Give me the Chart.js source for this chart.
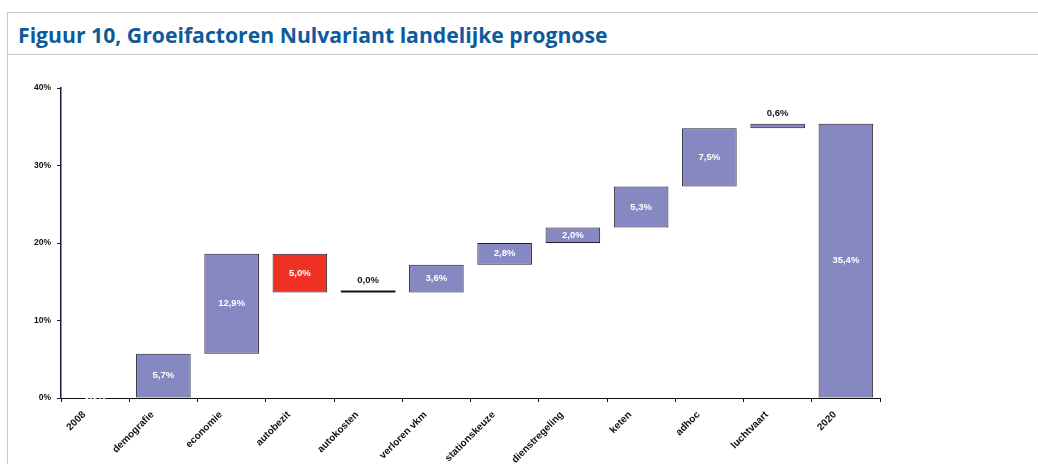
<!DOCTYPE html>
<html>
<head>
<meta charset="utf-8">
<script src="https://cdn.jsdelivr.net/npm/chart.js@4.4.1/dist/chart.umd.min.js"></script>
<style>
  html, body { margin: 0; padding: 0; background: #fff; }
  body { width: 1038px; height: 464px; position: relative; overflow: hidden; }
  .frame { position: absolute; left: 7px; top: 12px; right: -2px; bottom: -2px;
           border-top: 1px solid #c8c8c8; border-left: 1px solid #c8c8c8; }
  .title { position: absolute; left: 18px; top: 20px; font-family: 'Open Sans', sans-serif;
           font-weight: 700; font-size: 21.2px; color: #0d5a9c; white-space: nowrap; }
  .sep { position: absolute; left: 7px; right: 0; top: 54px; border-top: 1px solid #c8c8c8; }
  #chart { position: absolute; left: 0; top: 0; }
</style>
</head>
<body>
<div class="frame"></div>
<div class="title">Figuur 10, Groeifactoren Nulvariant landelijke prognose</div>
<div class="sep"></div>
<canvas id="chart" width="1038" height="464"></canvas>
<script>
(function () {
    'use strict';

    /* --- Data --- */
    var categories = ['2008', 'demografie', 'economie', 'autobezit', 'autokosten', 'verloren vkm',
                      'stationskeuze', 'dienstregeling', 'keten', 'adhoc', 'luchtvaart', '2020'];
    var barStart   = [0, 0,   5.7,  18.6, 13.6, 13.6, 17.2, 20.0, 22.0, 27.3, 34.8, 0];
    var barEnd     = [0, 5.7, 18.6, 13.6, 13.6, 17.2, 20.0, 22.0, 27.3, 34.8, 35.4, 35.4];
    var barLabels  = ['0,0%', '5,7%', '12,9%', '5,0%', '0,0%', '3,6%', '2,8%', '2,0%',
                      '5,3%', '7,5%', '0,6%', '35,4%'];
    var yTicks     = [0, 10, 20, 30, 40];

    var blue  = '#8688c1';
    var red   = '#ee3124';
    var font  = "'Liberation Sans', Arial, sans-serif";

    var colors = barStart.map(function (s, i) {
        if (i === 0) return 'rgba(0,0,0,0)';
        if (barEnd[i] === s) return '#111';
        return barEnd[i] < s ? red : blue;
    });
    var borders = barStart.map(function (s, i) {
        return (barEnd[i] === s) ? 0 : 1;
    });

    /* --- Value labels on the bars --- */
    var valueLabels = {
        id: 'valueLabels',
        afterDatasetsDraw: function (chart) {
            var ctx = chart.ctx;
            var meta = chart.getDatasetMeta(0);
            ctx.save();
            ctx.font = 'bold 9.5px ' + font;
            ctx.textAlign = 'center';
            ctx.textBaseline = 'middle';
            meta.data.forEach(function (bar, i) {
                var top = Math.min(bar.y, bar.base);
                var h = Math.abs(bar.base - bar.y);
                if (i > 0 && h < 12) {
                    ctx.fillStyle = '#111';
                    ctx.fillText(barLabels[i], bar.x, top - 10);
                } else {
                    ctx.fillStyle = '#fff';
                    ctx.fillText(barLabels[i], bar.x, top + h / 2);
                }
            });
            ctx.restore();
        }
    };

    new Chart(document.getElementById('chart'), {
        type: 'bar',
        data: {
            labels: categories,
            datasets: [{
                data: barStart.map(function (s, i) { return [s, barEnd[i]]; }),
                backgroundColor: colors,
                borderColor: '#1c1c2c',
                borderWidth: borders,
                borderSkipped: false,
                minBarLength: 2,
                barPercentage: 0.8,
                categoryPercentage: 1
            }]
        },
        options: {
            responsive: false,
            animation: false,
            layout: { padding: { left: 0, top: 88, right: 158, bottom: 0 } },
            plugins: {
                legend: { display: false },
                tooltip: { enabled: false }
            },
            scales: {
                x: {
                    afterFit: function (s) { s.height = 66; },
                    border: { color: '#111', width: 1 },
                    grid: { drawOnChartArea: false, drawTicks: true, tickLength: 4, color: '#111', offset: true },
                    ticks: {
                        minRotation: 45, maxRotation: 45, autoSkip: false,
                        labelOffset: -11, padding: 7,
                        color: '#111', font: { family: font, size: 10, weight: 'bold' }
                    }
                },
                y: {
                    min: 0, max: 40,
                    afterFit: function (s) { s.width = 61; },
                    afterBuildTicks: function (s) {
                        s.ticks = yTicks.map(function (v) { return { value: v }; });
                    },
                    border: { color: '#1a1a3a', width: 1.5 },
                    grid: { drawOnChartArea: false, drawTicks: true, tickLength: 4, color: '#1a1a3a' },
                    ticks: {
                        padding: 6,
                        color: '#111', font: { family: font, size: 8.5, weight: 'bold' },
                        callback: function (v) { return v + '%'; }
                    }
                }
            }
        },
        plugins: [valueLabels]
    });
})();
</script>
</body>
</html>
